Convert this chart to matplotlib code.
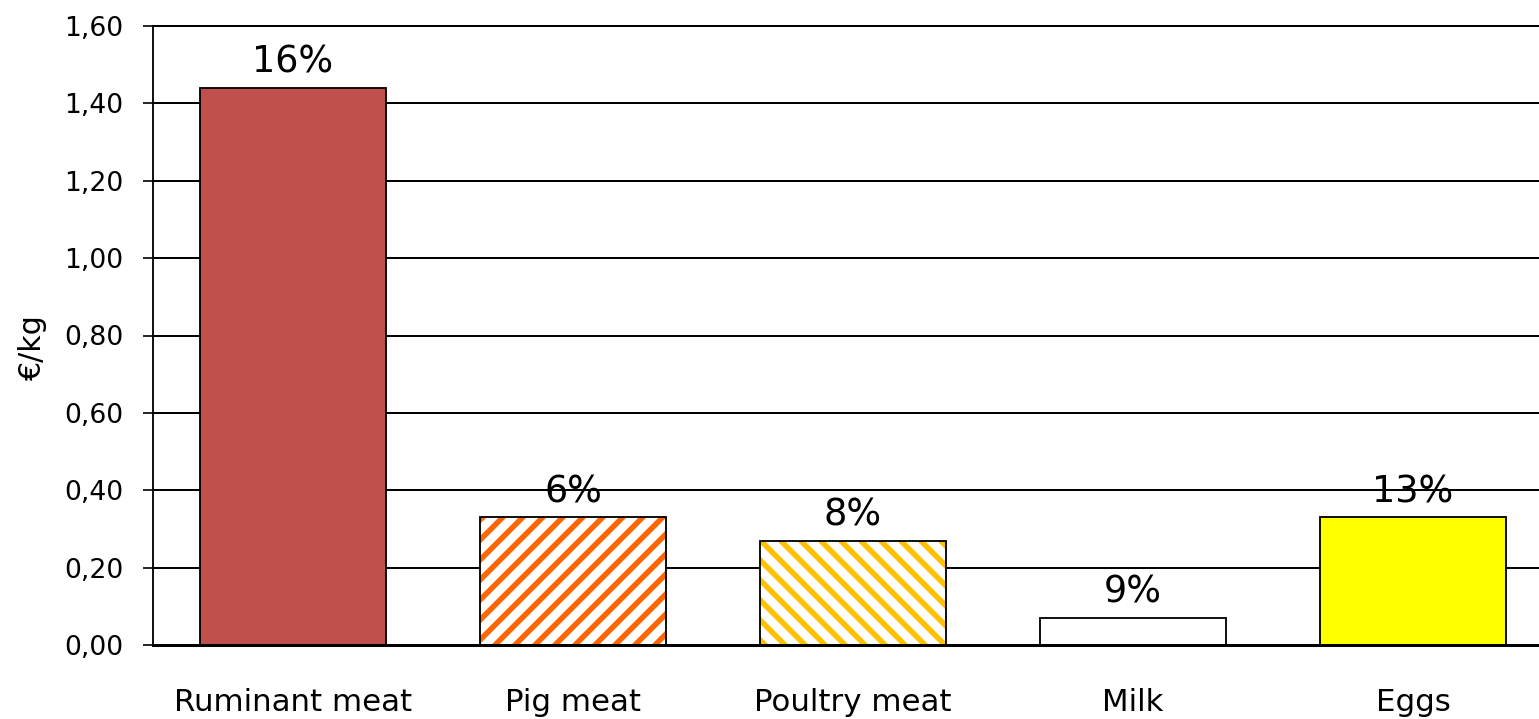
import numpy as np
import matplotlib
matplotlib.use("Agg")
import matplotlib.pyplot as plt

# values in euro per kg, with the share shown above each bar
categories = ["Ruminant meat", "Pig meat", "Poultry meat", "Milk", "Eggs"]
values = [1.44, 0.33, 0.27, 0.07, 0.33]
shares = ["16%", "6%", "8%", "9%", "13%"]
yticks = [0.0, 0.2, 0.4, 0.6, 0.8, 1.0, 1.2, 1.4, 1.6]

fills = ["#C0504D", "white", "white", "white", "#FFFF00"]
hatches = [None, "//", "\\\\", None, None]
hatch_colors = [None, "#FF6600", "#FFC000", None, None]

plt.rcParams["font.family"] = "DejaVu Sans"
plt.rcParams["hatch.linewidth"] = 3.3

dpi = 120
fig = plt.figure(figsize=(1539 / dpi, 719 / dpi), dpi=dpi)
ax = fig.add_axes([153 / 1539, 74 / 719, 1400 / 1539, 619 / 719])

x = np.arange(len(categories))
width = 0.667

# fill (and stripes) first, then the black outline on top
for i in range(len(categories)):
    if hatches[i]:
        ax.bar(x[i], values[i], width, color="white", edgecolor=hatch_colors[i],
               hatch=hatches[i], linewidth=0, zorder=3)
    else:
        ax.bar(x[i], values[i], width, color=fills[i], linewidth=0, zorder=3)
ax.bar(x, values, width, facecolor="none", edgecolor="black", linewidth=1.1, zorder=4)

for i in range(len(categories)):
    ax.annotate(shares[i], (x[i], values[i]), xytext=(0, 9), textcoords="offset points",
                ha="center", va="baseline", fontsize=22, zorder=5)

ax.set_xlim(-0.5, len(categories) - 0.5)
ax.set_ylim(0, 1.6)
ax.set_yticks(yticks)
ax.set_yticklabels([("%.2f" % v).replace(".", ",") for v in yticks], fontsize=16)
ax.set_xticks(x)
ax.set_xticklabels(categories, fontsize=18.5)
ax.tick_params(axis="x", length=0, pad=26)
ax.tick_params(axis="y", length=6, width=1.0, pad=12, direction="out")

ax.yaxis.grid(True, color="black", linewidth=1.2, zorder=1)
for line in ax.get_ygridlines():
    line.set_clip_on(False)
ax.set_axisbelow(True)
for s in ["top", "right"]:
    ax.spines[s].set_visible(False)
ax.spines["left"].set_linewidth(1.1)
ax.spines["bottom"].set_linewidth(1.8)
ax.spines["bottom"].set_zorder(6)

fig.text(32 / 1539, 1 - 347 / 719, "€/kg", rotation=90, ha="center", va="center", fontsize=18)

fig.savefig("out.png", dpi=dpi)
